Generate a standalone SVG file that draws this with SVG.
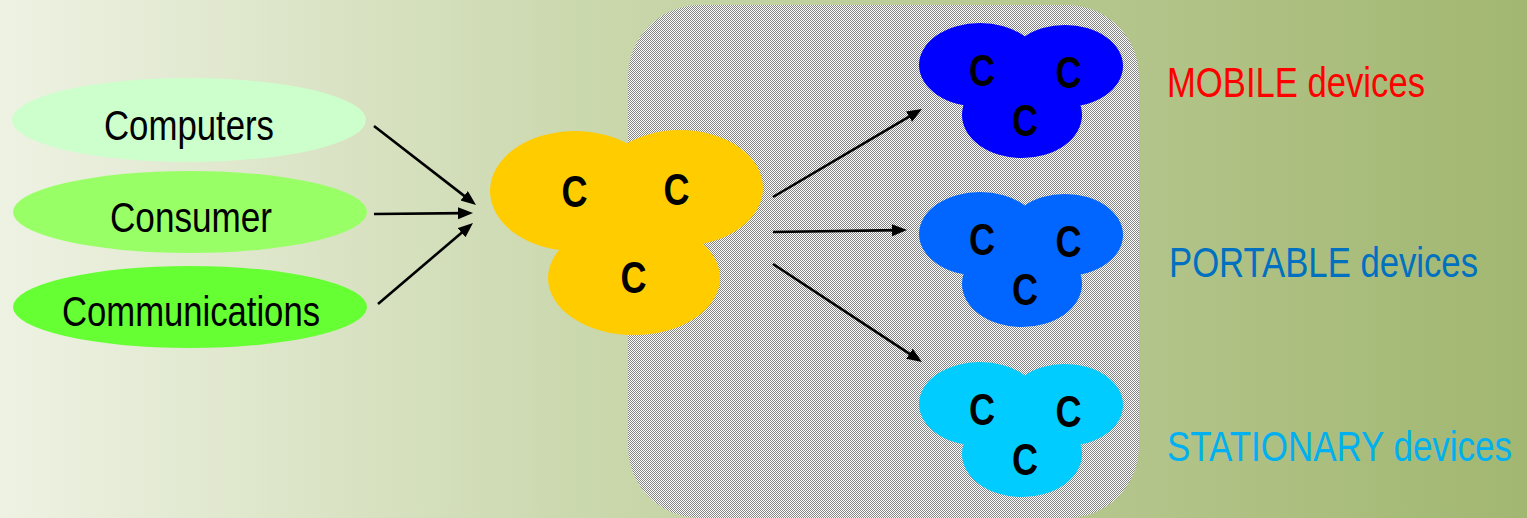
<svg xmlns="http://www.w3.org/2000/svg" width="1527" height="518" viewBox="0 0 1527 518">
  <defs>
    <linearGradient id="bg" x1="0" y1="0" x2="1" y2="0">
      <stop offset="0" stop-color="#eef2e3"/>
      <stop offset="0.4" stop-color="#c9d7ab"/>
      <stop offset="1" stop-color="#a2b771"/>
    </linearGradient>
    <pattern id="checker" x="0" y="0" width="2" height="2" patternUnits="userSpaceOnUse">
      <rect x="0" y="0" width="2" height="2" fill="#ffffff"/>
      <rect x="0" y="0" width="1" height="1" fill="#858585"/>
      <rect x="1" y="1" width="1" height="1" fill="#858585"/>
    </pattern>
    <marker id="arrow" markerUnits="userSpaceOnUse" markerWidth="16" markerHeight="13" refX="7" refY="6" orient="auto">
      <path d="M0,0 L15,6 L0,12 z" fill="#000"/>
    </marker>
  </defs>
  <style>
    .lbl { font-family: "Liberation Sans", Arial, sans-serif; font-size: 42px; fill: #000; }
    .dev { font-family: "Liberation Sans", Arial, sans-serif; font-size: 42px; }
    .c { font-family: "Liberation Sans", Arial, sans-serif; font-size: 44px; font-weight: bold; fill: #000; text-anchor: middle; }
    .conn { stroke: #000; stroke-width: 2.6; fill: none; marker-end: url(#arrow); }
  </style>

  <rect x="0" y="0" width="1527" height="518" fill="url(#bg)"/>
  <rect id="panel" x="628" y="5" width="511" height="513" rx="72" ry="72" fill="url(#checker)"/>

  <g id="computers">
    <ellipse cx="189" cy="120" rx="177" ry="42" fill="#ccffcc"/>
    <text class="lbl" transform="translate(104,140) scale(0.82,1)" x="0" y="0" textLength="207.3" lengthAdjust="spacingAndGlyphs">Computers</text>
  </g>
  <g id="consumer">
    <ellipse cx="190" cy="212" rx="177" ry="41" fill="#99ff66"/>
    <text class="lbl" transform="translate(110,232) scale(0.82,1)" x="0" y="0" textLength="197.6" lengthAdjust="spacingAndGlyphs">Consumer</text>
  </g>
  <g id="communications">
    <ellipse cx="190" cy="307" rx="177" ry="41" fill="#66ff33"/>
    <text class="lbl" transform="translate(62,326) scale(0.82,1)" x="0" y="0" textLength="314.6" lengthAdjust="spacingAndGlyphs">Communications</text>
  </g>

  <g id="core">
    <ellipse cx="575" cy="191" rx="85" ry="60" fill="#ffcc00"/>
    <ellipse cx="680" cy="188" rx="83" ry="58" fill="#ffcc00"/>
    <ellipse cx="634" cy="278" rx="86" ry="57" fill="#ffcc00"/>
    <text class="c" transform="translate(574.5,207) scale(0.82,1)" x="0" y="0">C</text>
    <text class="c" transform="translate(676.5,205) scale(0.82,1)" x="0" y="0">C</text>
    <text class="c" transform="translate(633.5,293) scale(0.82,1)" x="0" y="0">C</text>
  </g>

  <g id="mobile">
    <ellipse cx="980" cy="65" rx="61" ry="42" fill="#0000ff"/>
    <ellipse cx="1065" cy="66" rx="58" ry="41" fill="#0000ff"/>
    <ellipse cx="1022" cy="115" rx="60" ry="43" fill="#0000ff"/>
    <text class="c" transform="translate(982,86) scale(0.82,1)" x="0" y="0">C</text>
    <text class="c" transform="translate(1068.5,88) scale(0.82,1)" x="0" y="0">C</text>
    <text class="c" transform="translate(1025,136) scale(0.82,1)" x="0" y="0">C</text>
  </g>
  <g id="portable">
    <ellipse cx="980" cy="234" rx="61" ry="42" fill="#0066ff"/>
    <ellipse cx="1065" cy="235" rx="58" ry="41" fill="#0066ff"/>
    <ellipse cx="1022" cy="284" rx="60" ry="43" fill="#0066ff"/>
    <text class="c" transform="translate(982,255) scale(0.82,1)" x="0" y="0">C</text>
    <text class="c" transform="translate(1068.5,257) scale(0.82,1)" x="0" y="0">C</text>
    <text class="c" transform="translate(1025,305) scale(0.82,1)" x="0" y="0">C</text>
  </g>
  <g id="stationary">
    <ellipse cx="980" cy="404" rx="61" ry="42" fill="#00ccff"/>
    <ellipse cx="1065" cy="405" rx="58" ry="41" fill="#00ccff"/>
    <ellipse cx="1022" cy="454" rx="60" ry="43" fill="#00ccff"/>
    <text class="c" transform="translate(982,425) scale(0.82,1)" x="0" y="0">C</text>
    <text class="c" transform="translate(1068.5,427) scale(0.82,1)" x="0" y="0">C</text>
    <text class="c" transform="translate(1025,475) scale(0.82,1)" x="0" y="0">C</text>
  </g>

  <g id="label-mobile">
    <text class="dev" transform="translate(1167,97) scale(0.82,1)" x="0" y="0" fill="#ff0000" textLength="314.6" lengthAdjust="spacingAndGlyphs">MOBILE devices</text>
  </g>
  <g id="label-portable">
    <text class="dev" transform="translate(1169,277) scale(0.82,1)" x="0" y="0" fill="#0070c0" textLength="376.8" lengthAdjust="spacingAndGlyphs">PORTABLE devices</text>
  </g>
  <g id="label-stationary">
    <text class="dev" transform="translate(1167,461) scale(0.82,1)" x="0" y="0" fill="#00b0f0" textLength="420.7" lengthAdjust="spacingAndGlyphs">STATIONARY devices</text>
  </g>

  <g id="connectors">
    <line class="conn" x1="374" y1="126" x2="469.7" y2="200.1"/>
    <line class="conn" x1="374" y1="214" x2="465" y2="213.1"/>
    <line class="conn" x1="378" y1="304" x2="466.9" y2="228.2"/>
    <line class="conn" x1="773" y1="197" x2="915.1" y2="113.1"/>
    <line class="conn" x1="773" y1="232" x2="899" y2="230.1"/>
    <line class="conn" x1="773" y1="264" x2="915.3" y2="357.6"/>
  </g>
</svg>
